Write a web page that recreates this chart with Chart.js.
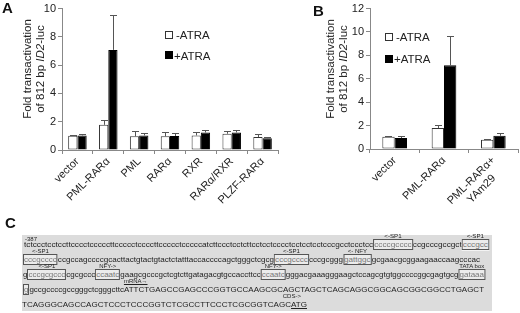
<!DOCTYPE html>
<html>
<head>
<meta charset="utf-8">
<script src="https://cdn.jsdelivr.net/npm/chart.js@4"></script>
<style>
  body { margin: 0; background: #fff; font-family: "Liberation Sans", Arial, sans-serif; }
  #page { position: relative; width: 520px; height: 313px; overflow: hidden; }
  canvas { position: absolute; top: 0; }
  .panel { position: absolute; font-weight: bold; font-size: 15px; color: #111; }
  .ytitle { position: absolute; width: 120px; text-align: center; font-size: 11.5px; line-height: 13px; color: #222; transform: rotate(-90deg); transform-origin: 50% 50%; }
  .leg { position: absolute; font-size: 11.5px; color: #222; line-height: 12px; }
  .sq { position: absolute; width: 6px; height: 6px; border: 1px solid #333; }
  #seqbox { position: absolute; left: 22px; top: 235px; width: 470px; height: 76px; background: #dcdcdc; }
  .ln { position: absolute; white-space: nowrap; font-size: 8px; line-height: 8px; color: #222; transform-origin: 0 50%; }
  .bx { position: relative; border: 1px solid #555; background: #ececec; color: #777; }
  .an { position: absolute; bottom: 100%; left: 50%; transform: translateX(-50%); font-size: 6px; line-height: 6px; color: #222; padding-bottom: 1px; }
</style>
</head>
<body>
<div id="page">
  <canvas id="chartA" width="290" height="230" style="left:0"></canvas>
  <canvas id="chartB" width="230" height="230" style="left:290px"></canvas>

  <div class="panel" style="left:2px;top:-1px">A</div>
  <div class="panel" style="left:313px;top:2px">B</div>
  <div class="panel" style="left:5px;top:214px">C</div>

  <div class="ytitle" style="left:-26px;top:56px">Fold transactivation<br>of 812 bp <i>ID2</i>-luc</div>
  <div class="ytitle" style="left:277px;top:56px">Fold transactivation<br>of 812 bp <i>ID2</i>-luc</div>

  <div class="sq" style="left:165px;top:31px;background:#fff"></div>
  <div class="leg" style="left:176px;top:29px">-ATRA</div>
  <div class="sq" style="left:165px;top:51px;background:#000;border-color:#000"></div>
  <div class="leg" style="left:174px;top:50px">+ATRA</div>

  <div class="sq" style="left:385px;top:33px;background:#fff"></div>
  <div class="leg" style="left:396px;top:31px">-ATRA</div>
  <div class="sq" style="left:385px;top:55px;background:#000;border-color:#000"></div>
  <div class="leg" style="left:394px;top:53px">+ATRA</div>

  <div id="seqbox"></div>
  <div id="seq"></div>
</div>

<script>
// panel A
const catsA = ['vector', 'PML-RARα', 'PML', 'RARα', 'RXR', 'RARα/RXR', 'PLZF-RARα'];
const minusA = [1.0, 1.78, 0.97, 0.97, 1.03, 1.15, 0.92];
const minusErrA = [0.04, 0.33, 0.36, 0.27, 0.21, 0.18, 0.18];
const plusA = [1.03, 7.08, 1.03, 0.99, 1.24, 1.24, 0.83];
const plusErrA = [0.1, 2.45, 0.17, 0.2, 0.19, 0.19, 0.09];
const ticksA = { min: 0, max: 10, step: 1 };

// panel B
const catsB = ['vector', 'PML-RARα', ['PML-RARα+', 'YAm29    ']];
const minusB = [1.05, 1.8, 0.78];
const minusErrB = [0.02, 0.29, 0.09];
const plusB = [0.93, 7.15, 1.13];
const plusErrB = [0.17, 2.48, 0.23];
const ticksB = { min: 0, max: 12, step: 2 };

// panel C sequence rows: [text, boxed?, note]
const rowsC = [
  [['tctccctcctccttcccctcccccttccccctccccttccccctcccccatcttccctcctcttcctcctcccctcctcctcctcccgcctccctcc'], ['ccccgcccc', 'box', '<-SP1'], ['ccgcccgccgct'], ['cccgcc', 'box', '<-SP1']],
  [['cccgcccc', 'box', '<-SP1'], ['ccgccagccccgcacttactgtactgtactctatttaccaccccagctgggctcgcg'], ['cccgcccc', 'box', '<-SP1'], ['cccgcggg'], ['gattggc', 'box', '<- NFY'], ['gcgaacgcggaagaaccaagcccac']],
  [['g'], ['cccgcgccc', 'box', '<-SP1'], ['cgcgccc'], ['ccaatc', 'box', 'NFY->'], ['gaagcgcccgctcgtcttgatagacgtgccaccttcc'], ['ccaatc', 'box', 'NFY->'], ['gggacgaaagggaagctccagcgtgtggccccggcgagtgcg'], ['gataaa', 'box', 'TATA box']],
  [['g', 'box'], ['gccgccccgccgggctcgggcttc'], ['ATT', 'mark', 'mRNA→'], ['CTGAGCCGAGCCCGGTGCCAAGCGCAGCTAGCTCAGCAGGCGGCAGCGGCGGCCTGAGCT']],
  [['TCAGGGCAGCCAGCTCCCTCCCGGTCTCGCCTTCCCTCGCGGTCAGC'], ['ATG', 'cds', 'CDS->']]
];
const startC = '-387';

Chart.defaults.font.family = '"Liberation Sans", Arial, sans-serif';
Chart.defaults.font.size = 11;
Chart.defaults.color = '#222';

const errorBars = {
  id: 'errorBars',
  afterDatasetsDraw(chart) {
    const ctx = chart.ctx;
    const y = chart.scales.y;
    chart.data.datasets.forEach((ds, i) => {
      chart.getDatasetMeta(i).data.forEach((bar, j) => {
        const top = y.getPixelForValue(ds.data[j] + ds.errors[j]);
        const base = y.getPixelForValue(ds.data[j]);
        ctx.save();
        ctx.strokeStyle = '#555';
        ctx.lineWidth = 1;
        ctx.beginPath();
        ctx.moveTo(Math.round(bar.x) + 0.5, base);
        ctx.lineTo(Math.round(bar.x) + 0.5, Math.round(top) + 0.5);
        ctx.moveTo(Math.round(bar.x) - 3, Math.round(top) + 0.5);
        ctx.lineTo(Math.round(bar.x) + 4, Math.round(top) + 0.5);
        ctx.stroke();
        ctx.restore();
      });
    });
  }
};

function makeChart(id, cats, minus, minusErr, plus, plusErr, t, dims) {
  return new Chart(document.getElementById(id), {
    type: 'bar',
    data: {
      labels: cats,
      datasets: [
        { label: '-ATRA', data: minus, errors: minusErr, backgroundColor: '#fff', borderColor: '#333', borderWidth: 1, borderSkipped: false },
        { label: '+ATRA', data: plus, errors: plusErr, backgroundColor: '#000', borderColor: '#000', borderWidth: 1 }
      ]
    },
    options: {
      responsive: false,
      animation: false,
      devicePixelRatio: 1,
      categoryPercentage: dims.cat,
      barPercentage: 1,
      layout: { padding: { left: 0, top: dims.top, right: dims.right, bottom: 0 } },
      plugins: { legend: { display: false }, tooltip: { enabled: false } },
      scales: {
        x: {
          grid: { drawOnChartArea: false, tickLength: 4, color: '#888' },
          border: { color: '#888' },
          ticks: { minRotation: 45, maxRotation: 45, padding: 1, autoSkip: false },
          afterFit: s => { s.height = dims.xh; }
        },
        y: {
          min: t.min, max: t.max,
          grid: { drawOnChartArea: false, tickLength: 4, color: '#888' },
          border: { color: '#888' },
          ticks: { stepSize: t.step, padding: 2 },
          afterFit: s => { s.width = dims.yw; }
        }
      }
    },
    plugins: [errorBars]
  });
}

makeChart('chartA', catsA, minusA, minusErrA, plusA, plusErrA, ticksA, { cat: 0.6, top: 0, right: 12, xh: 80, yw: 62 });
makeChart('chartB', catsB, minusB, minusErrB, plusB, plusErrB, ticksB, { cat: 0.5, top: 3, right: 2, xh: 81, yw: 80 });

// panel C: sequence lines, each stretched to its span in the box
const lineSpans = [[24, 489, 245], [23, 480, 260], [23, 485, 275], [23, 484, 290], [22, 307, 305]];
const seq = document.getElementById('seq');

const st = document.createElement('div');
st.className = 'ln';
st.style.cssText = 'left:25px;top:236px;font-size:6px;line-height:6px';
st.textContent = startC;
seq.appendChild(st);

rowsC.forEach((row, r) => {
  const [x0, x1, yc] = lineSpans[r];
  const div = document.createElement('div');
  div.className = 'ln';
  div.style.left = x0 + 'px';
  div.style.top = (yc - 4) + 'px';
  const inner = document.createElement('span');
  row.forEach(([txt, kind, note]) => {
    const s = document.createElement('span');
    s.textContent = txt;
    if (kind === 'box') s.className = 'bx';
    if (kind) s.style.position = 'relative';
    if (kind === 'cds') s.style.textDecoration = 'underline';
    if (note) {
      const a = document.createElement('span');
      a.className = 'an';
      a.textContent = note;
      if (kind === 'mark') { a.style.left = '0'; a.style.transform = 'none'; a.style.textDecoration = 'underline'; }
      if (kind === 'cds') { a.style.left = 'auto'; a.style.right = '6px'; a.style.transform = 'none'; }
      s.appendChild(a);
    }
    inner.appendChild(s);
  });
  div.appendChild(inner);
  seq.appendChild(div);
  const w = inner.getBoundingClientRect().width;
  div.style.transform = 'scaleX(' + ((x1 - x0) / w) + ')';
});
</script>
</body>
</html>
